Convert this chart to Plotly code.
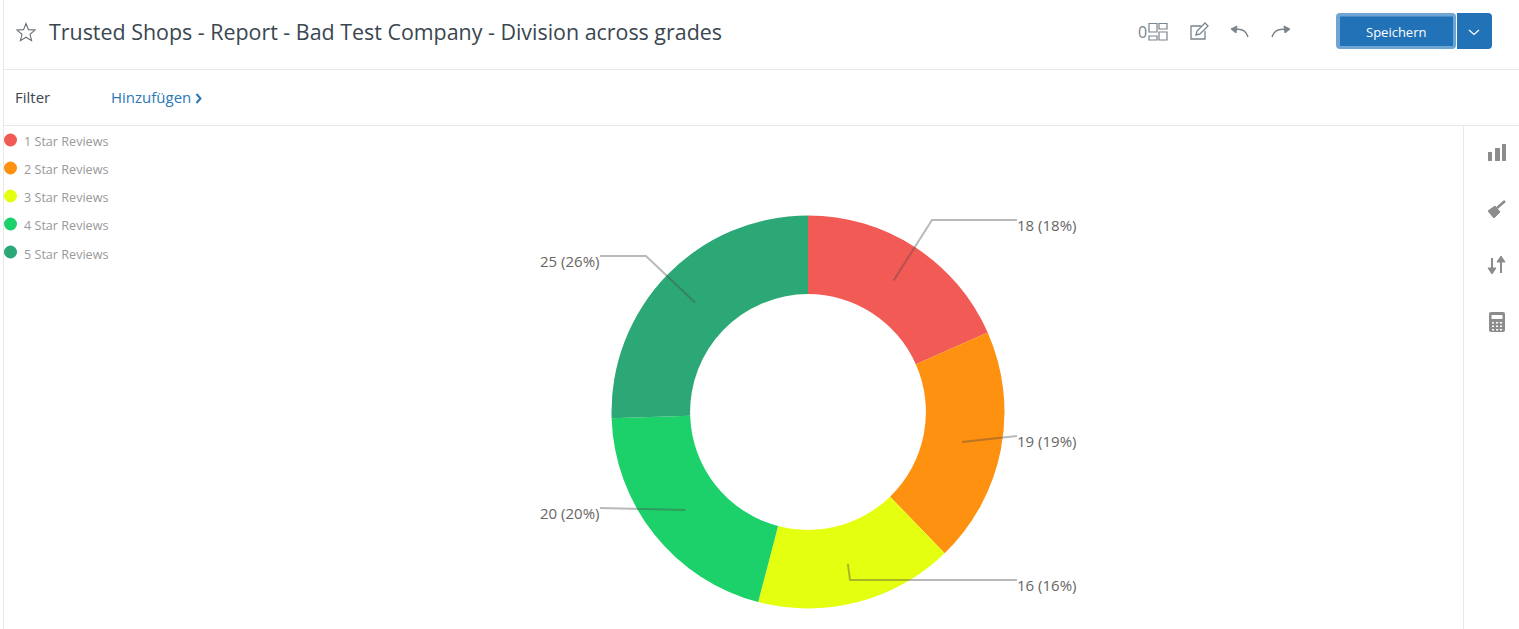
import math
import plotly.graph_objects as go

W, H = 1519, 629
categories = ["1 Star Reviews", "2 Star Reviews", "3 Star Reviews", "4 Star Reviews", "5 Star Reviews"]
values = [18, 19, 16, 20, 25]
percents = [18, 19, 16, 20, 26]
colors = ["#F25A55", "#FF9110", "#E5FF10", "#1DD16A", "#2CA877"]
title = "Trusted Shops - Report - Bad Test Company - Division across grades"

FONT = "Open Sans"
CX, CY, R = 808, 412, 196.5
def px(x): return x / W
def py(y): return 1 - y / H

shapes, ann = [], []
def line(x0, y0, x1, y1, c="#E8E8E8", w=1):
    shapes.append(dict(type="line", xref="paper", yref="paper", x0=px(x0), x1=px(x1), y0=py(y0), y1=py(y1),
                       line=dict(color=c, width=w)))
def path(pts, c="#777", w=1.4, fill=None, close=False):
    s = ""
    for p in pts:
        s += p[0]
        vals = p[1:]
        s += " ".join(f"{px(vals[i]):.5f},{py(vals[i+1]):.5f}" for i in range(0, len(vals), 2)) + " "
    if close: s += "Z"
    shapes.append(dict(type="path", xref="paper", yref="paper", path=s,
                       fillcolor=fill or "rgba(0,0,0,0)", line=dict(color=c, width=w)))
def rrect(x0, y0, x1, y1, r=3, fill="#777", c=None, w=0, rl=True):
    l = r if rl else 0
    path([("M", x0 + l, y0), ("L", x1 - r, y0), ("Q", x1, y0, x1, y0 + r), ("L", x1, y1 - r), ("Q", x1, y1, x1 - r, y1),
          ("L", x0 + l, y1), ("Q", x0, y1, x0, y1 - l), ("L", x0, y0 + l), ("Q", x0, y0, x0 + l, y0)],
         c=c or fill, w=w, fill=fill, close=True)
def text(x, y, t, size=14, color="#555", anchor="left"):
    ann.append(dict(xref="paper", yref="paper", x=px(x), y=py(y), text=t, showarrow=False, xanchor=anchor, yanchor="middle",
                    font=dict(family=FONT, size=size, color=color), borderpad=0, align=anchor))

# page frame
line(3.5, 0, 3.5, H)
line(4, 69.5, W, 69.5)
line(4, 125.5, W, 125.5)
line(1463.5, 125, 1463.5, H)

# header
text(48, 32, title, 21.42, "#3A4650")
star = []
for i in range(10):
    a = -math.pi / 2 + i * math.pi / 5
    r = 9.5 if i % 2 == 0 else 4.2
    star.append(("M" if i == 0 else "L", 26 + r * math.cos(a), 33 + r * math.sin(a)))
path(star, c="#667079", w=1.1, close=True)
text(14, 97, "Filter", 15, "#3A4650")
text(110, 97, "Hinzufügen", 15, "#2B78B8")
path([("M", 196.5, 94), ("L", 200.5, 98.5), ("L", 196.5, 103)], c="#2B78B8", w=2)

# toolbar
text(1137, 32, "0", 16, "#7A848C")
for a in [(1149, 23.5, 1157, 32), (1159, 23.5, 1167, 29), (1149, 36, 1157, 40), (1159, 32, 1167, 40)]:
    shapes.append(dict(type="rect", xref="paper", yref="paper", x0=px(a[0]), x1=px(a[2]), y0=py(a[1]), y1=py(a[3]),
                       line=dict(color="#7A848C", width=1.2)))
path([("M", 1201, 26), ("L", 1191, 26), ("L", 1191, 39), ("L", 1205, 39), ("L", 1205, 31)], c="#7A848C", w=1.3)
path([("M", 1196, 35), ("L", 1197, 31), ("L", 1205, 23), ("L", 1208, 26), ("L", 1200, 34), ("Z",)], c="#7A848C", w=1.3)
path([("M", 1248, 37), ("Q", 1245, 27, 1233, 30)], c="#7A848C", w=1.4)
path([("M", 1231, 29), ("L", 1237, 26), ("L", 1236, 33), ("Z",)], c="#7A848C", w=1, fill="#7A848C")
path([("M", 1272, 37), ("Q", 1275, 27, 1288, 30)], c="#7A848C", w=1.4)
path([("M", 1290, 29), ("L", 1284, 26), ("L", 1285, 33), ("Z",)], c="#7A848C", w=1, fill="#7A848C")

# save button
rrect(1336, 13, 1456, 49, 4, "#6FA5D3")
rrect(1340, 16.5, 1453, 46, 0.5, "#2272B7")
rrect(1457, 13, 1492, 49, 4, "#2272B7", rl=False)
text(1396, 32, "Speichern", 13, "#FFFFFF", "center")
path([("M", 1469, 30), ("L", 1474, 34.5), ("L", 1479, 30)], c="#FFFFFF", w=1.2)

# side icons
ic = "#8C8C8C"
rrect(1488, 152, 1492, 161, 0.5, ic)
rrect(1495, 148, 1500, 161, 0.5, ic)
rrect(1502, 144, 1506, 161, 0.5, ic)
path([("M", 1488, 211), ("L", 1495, 206), ("L", 1500, 212), ("L", 1494, 218), ("Z",)], c=ic, w=1, fill=ic, close=True)
path([("M", 1497, 208), ("L", 1505, 201)], c=ic, w=2.5)
path([("M", 1492, 258), ("L", 1492, 272)], c=ic, w=2)
path([("M", 1488, 268), ("L", 1496, 268), ("L", 1492, 274), ("Z",)], c=ic, w=1, fill=ic)
path([("M", 1501, 258), ("L", 1501, 273)], c=ic, w=2)
path([("M", 1497, 262), ("L", 1505, 262), ("L", 1501, 256), ("Z",)], c=ic, w=1, fill=ic)
rrect(1489, 312, 1505, 332, 2, ic)
rrect(1491.5, 315, 1502.5, 319, 0.3, "#FFFFFF")
for ry in (322, 325.5, 329):
    for rx in (1492, 1496, 1500):
        rrect(rx, ry, rx + 2, ry + 1.6, 0.2, "#FFFFFF")

# legend
legend_y = [140, 168, 196, 224, 252]
legend_text_y = [141, 169, 197, 225, 254.6]
for name, col, yy, ty in zip(categories, colors, legend_y, legend_text_y):
    shapes.append(dict(type="circle", xref="paper", yref="paper", x0=px(4), x1=px(17), y0=py(yy - 6.5), y1=py(yy + 6.5),
                       fillcolor=col, line=dict(width=0)))
    text(23, ty, name, 12.6, "#999999")

# outside labels with leader lines (anchored on each slice's mid angle)
label_x = [1017, 1017, 1017, 600, 600]
label_y = [220, 436, 580, 508, 256]
elbow_x = [932, 1017, 850, 600, 646]
total = sum(values)
cum = 0
for v, p, lx, ly, ex in zip(values, percents, label_x, label_y, elbow_x):
    a = (cum + v / 2) / total * 2 * math.pi
    cum += v
    sx, sy = CX + 157 * math.sin(a), CY - 157 * math.cos(a)
    path([("M", sx, sy), ("L", ex, ly), ("L", lx, ly)], c="rgba(70,70,70,0.38)", w=2)
    if lx > CX:
        text(lx - 1, ly + 5, f"{v} ({p}%)", 15, "#666666", "left")
    else:
        text(lx, ly + 5, f"{v} ({p}%)", 15, "#666666", "right")

fig = go.Figure(go.Pie(
    values=values, labels=categories, hole=0.6, sort=False, direction="clockwise", rotation=0,
    marker=dict(colors=colors, line=dict(width=0)), textinfo="none", showlegend=False,
    domain=dict(x=[px(CX - R), px(CX + R)], y=[py(CY + R), py(CY - R)]),
))
fig.update_layout(width=W, height=H, margin=dict(l=0, r=0, t=0, b=0, pad=0), paper_bgcolor="white",
                  shapes=shapes, annotations=ann, font=dict(family=FONT))
fig.write_html("out.html", config=dict(displayModeBar=False),
               post_script="document.body.style.margin='0';document.body.style.overflow='hidden';")
